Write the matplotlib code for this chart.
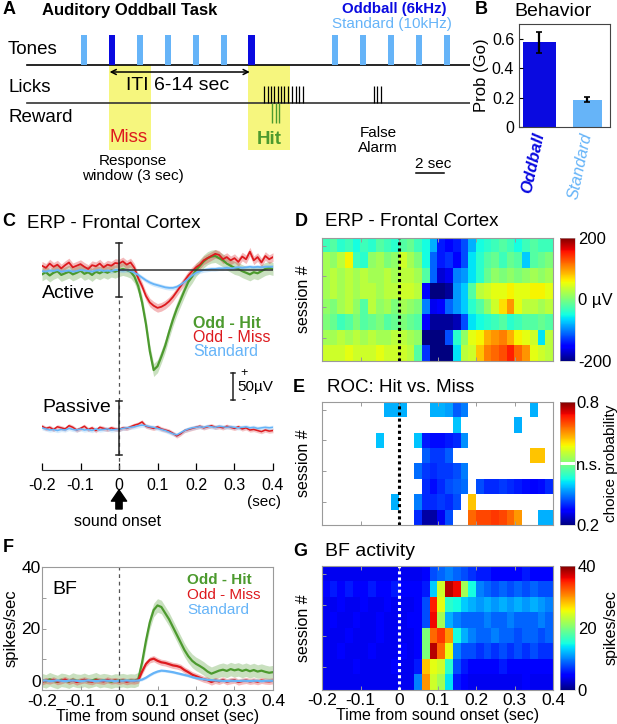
import numpy as np
import matplotlib
matplotlib.use("Agg")
import matplotlib.pyplot as plt
from matplotlib.colors import ListedColormap

plt.rcParams['font.family'] = ['Liberation Sans', 'DejaVu Sans']

# ---------------- DATA ----------------
# Panel A schematic (seconds)
tone_times = [0, 2, 4, 6, 8, 10, 12, 18, 20, 22, 24, 26]
tone_kind = ['S', 'O', 'S', 'S', 'S', 'S', 'O', 'S', 'S', 'S', 'S', 'S']
window_starts = [2, 12]
window_len = 3
hit_licks = [13.14, 13.38, 13.62, 13.86, 14.1, 14.34, 14.57, 14.82, 15.1, 15.41, 15.65, 15.89]
fa_licks = [21.0, 21.24, 21.48]
reward_times = [13.71, 13.96, 14.19]

# Panel B
beh_labels = ['Oddball', 'Standard']
beh_values = [0.575, 0.185]
beh_err = [0.07, 0.018]

# Time axis for traces
t = np.round(np.arange(-0.2, 0.4001, 0.01), 2)

# Panel C (uV), active
erp_hit = [-8, -4, -10, -5, -2, -9, -6, -3, -8, -5, -1, -7, -4, -9, -3, -6, -2, -5, -1, -3,
           0, 2, 0, -3, -12, -30, -60, -100, -150, -185, -178, -160, -140, -115, -92, -72, -55, -38, -22, -12,
           0, 8, 16, 22, 25, 26, 22, 18, 12, 8, 4, 2, -2, -5, -8, -4, -6, -2, 2, 4, 2]
erp_miss = [8, 4, 12, 6, 10, 3, 9, 14, 5, 8, 11, 6, 2, 9, 7, 12, 5, 10, 8, 13,
            12, 16, 10, 14, 4, -15, -30, -48, -60, -66, -70, -68, -64, -58, -50, -40, -30, -20, -10, -2,
            5, 10, 18, 22, 26, 30, 28, 20, 24, 18, 22, 15, 25, 20, 34, 18, 24, 14, 26, 20, 24]
erp_std = [-2, -3, -1, -2, 0, -3, -2, -1, -3, -2, 0, -1, -2, -3, -1, 0, -2, -1, -2, 0,
           0, -1, 0, -2, -5, -9, -14, -19, -23, -26, -28, -30, -32, -33, -33, -31, -27, -22, -16, -10,
           -5, -2, 0, 1, 2, 2, 3, 3, 4, 3, 4, 5, 4, 5, 6, 5, 6, 5, 6, 6, 6]
erp_sem = {'hit': 12, 'miss': 8, 'std': 4}
# passive
pas_miss = [4, 0, 2, -2, 3, 1, -1, 5, 2, -3, 0, 4, -2, 1, -4, 2, 0, -2, 1, -1,
            -2, 1, 0, 3, 6, 8, 12, 4, 2, 0, 3, -1, -3, -5, -9, -14, -10, -4, -2, 0,
            2, 4, 1, 3, 5, 2, 3, 1, 4, 2, 0, 3, -1, 1, -3, -2, -4, -6, -3, -5, -4]
pas_std = [1, -1, -3, -2, -4, -2, -3, 0, -2, -3, -1, -3, -2, -4, -1, -3, -2, -1, -3, -2,
           -2, 0, 1, 2, 3, 5, 6, 5, 3, 2, 0, -2, -4, -7, -10, -12, -8, -4, -1, 1,
           2, 3, 2, 4, 3, 2, 4, 3, 2, 3, 2, 1, 2, 3, 1, 2, 0, 1, 2, 1, 2]
pas_sem = 4
passive_offset = -293

# Panel D: ERP heatmap (uV), 8 sessions x 30 bins of 20 ms
erp_map = [
    [-30, -20, -40, -30, -50, -30, -40, -20, -30, -40, -20, -10, -30, -50, -80, -140, -150, -140, -120, -80, -50, -40, -30, -20, -30, -50, -30, -20, -30, -30],
    [20, 10, 30, 60, -30, -40, 10, 20, 0, 10, 40, 20, 0, -50, -110, -140, -130, -150, -120, -60, -40, -20, -10, -30, -10, -20, -70, -20, -10, 0],
    [20, 30, 20, 30, 20, 30, 20, 20, 30, 20, 30, 30, 20, -20, -110, -170, -160, -100, -90, -60, -40, -10, 10, 0, 10, 0, 10, 20, 10, 20],
    [20, 30, 20, 30, 20, 30, 30, 20, 30, 30, 40, 40, 30, -150, -200, -200, -190, -90, -70, -20, 30, 40, 50, 50, 60, 50, 50, 60, 60, 50],
    [10, 0, 20, 30, 10, -20, 30, 10, 20, 0, 20, 10, 0, -100, -160, -150, -110, -90, -70, -40, -20, 10, 40, 70, 100, 50, 30, 30, 20, 30],
    [0, -10, -30, -20, 0, -20, -10, 0, -20, -10, 0, -10, -20, -150, -190, -190, -190, -180, -120, -60, -50, -40, -30, -20, -40, -30, -20, -20, -10, -20],
    [20, 20, 30, 20, 30, 20, 30, 20, 20, 30, 30, 20, 10, -200, -200, -200, -120, -40, 10, 50, 60, 90, 100, 110, 90, 60, 50, 40, -60, 30],
    [40, 40, 40, 50, 40, 40, 40, 50, 40, 40, 40, 30, -20, -130, -200, -200, -200, -60, 30, 40, 80, 110, 120, 130, 150, 120, 100, 50, 40, 30],
]

# Panel E: choice probability (nan = not significant)
N = np.nan
roc_map = [
    [N, N, N, N, N, N, N, N, 0.38, 0.38, 0.38, N, N, N, 0.38, 0.38, 0.37, 0.33, 0.35, N, N, N, N, N, N, N, N, 0.38, N, N],
    [N, N, N, N, N, N, N, N, N, N, N, N, N, N, N, N, N, 0.39, N, N, N, N, N, N, N, 0.38, N, N, N, N],
    [N, N, N, N, N, N, N, 0.39, N, N, N, N, 0.39, 0.29, 0.28, 0.28, 0.29, 0.30, 0.36, N, N, N, N, N, N, N, N, N, N, N],
    [N, N, N, N, N, N, N, N, N, N, N, N, N, 0.33, 0.31, 0.31, 0.33, N, N, N, N, N, N, N, N, N, N, 0.62, 0.62, N],
    [N, N, N, N, N, N, N, N, N, N, N, N, 0.34, 0.31, 0.30, 0.31, 0.31, 0.32, 0.35, N, N, N, N, N, N, N, N, N, N, N],
    [N, N, N, N, N, N, N, N, N, N, N, N, N, 0.30, 0.28, 0.30, 0.32, 0.33, 0.34, N, 0.32, 0.30, 0.30, 0.31, 0.30, 0.29, 0.28, 0.27, 0.28, 0.30],
    [N, N, N, N, N, N, N, N, N, 0.38, N, N, 0.35, 0.30, 0.30, 0.31, 0.30, 0.32, N, 0.62, N, N, N, N, N, N, N, N, N, N],
    [N, N, N, N, N, N, N, N, N, N, N, N, 0.30, 0.22, 0.22, 0.26, 0.32, N, N, 0.68, 0.70, 0.70, 0.71, 0.70, 0.68, 0.65, N, N, 0.38, 0.38],
]

# Panel F (spikes/sec)
bf_hit = [3.2, 2.8, 3.5, 3.0, 2.6, 3.3, 3.1, 2.7, 3.4, 3.0, 2.9, 3.3, 2.8, 3.1, 3.5, 2.9, 3.2, 3.0, 2.7, 3.1,
          3.0, 3.2, 2.9, 3.1, 3.0, 3.5, 9, 16, 22, 26, 27.5, 27, 25, 23, 20.5, 18, 15.5, 13, 11, 9.5,
          8.5, 7.8, 7, 6, 5.3, 5.8, 6.3, 6.6, 6.2, 6.8, 6.4, 6.7, 6.2, 6.6, 6.1, 6.5, 6.0, 6.3, 5.9, 5.6, 5.8]
bf_miss = [2.6, 3.1, 2.9, 3.3, 2.7, 3.0, 3.4, 2.8, 3.2, 2.6, 3.0, 3.3, 2.9, 2.7, 3.2, 3.0, 2.8, 3.3, 2.9, 3.1,
           2.8, 3.1, 2.7, 3.0, 2.9, 3.2, 6, 8.5, 9.8, 10.2, 9.5, 9.0, 8.8, 8.4, 8.0, 7.8, 7.4, 6.5, 5.8, 5.0,
           4.5, 4.0, 3.5, 3.2, 2.6, 3.1, 2.8, 3.3, 2.7, 3.0, 3.2, 2.6, 2.9, 3.1, 2.8, 3.0, 2.7, 3.1, 2.9, 2.8, 3.0]
bf_std = [3.0, 3.1, 2.9, 3.0, 3.1, 3.0, 2.9, 3.0, 3.1, 3.0, 2.9, 3.0, 3.1, 3.0, 2.9, 3.0, 3.1, 3.0, 3.0, 2.9,
          3.0, 3.0, 3.1, 3.0, 3.0, 3.1, 3.4, 4.0, 4.8, 5.5, 6.0, 6.3, 6.2, 6.0, 5.8, 5.5, 5.2, 4.9, 4.6, 4.2,
          3.9, 3.7, 3.5, 3.3, 3.2, 3.1, 3.0, 3.0, 2.9, 3.0, 3.0, 2.9, 3.0, 3.0, 2.9, 3.0, 3.0, 2.9, 3.0, 3.0, 3.0]
bf_sem = {'hit': 2.2, 'miss': 1.0, 'std': 0.4}

# Panel G: BF activity heatmap (spikes/sec)
bf_map = [
    [4, 4, 4, 4, 4, 4, 4, 4, 4, 4, 4, 4, 4, 5, 8, 9, 10, 9, 8, 7, 6, 6, 5, 5, 5, 5, 6, 5, 5, 5],
    [5, 6, 5, 6, 5, 5, 6, 5, 5, 6, 5, 5, 5, 6, 13, 24, 38, 36, 22, 15, 10, 9, 8, 9, 8, 9, 8, 9, 8, 8],
    [4, 4, 5, 4, 4, 5, 4, 4, 5, 4, 4, 4, 5, 8, 35, 25, 16, 15, 13, 12, 11, 12, 11, 12, 11, 12, 11, 12, 11, 10],
    [4, 5, 4, 4, 5, 4, 4, 5, 4, 4, 4, 5, 5, 8, 36, 22, 12, 10, 9, 9, 9, 10, 9, 9, 10, 9, 9, 9, 10, 9],
    [4, 4, 4, 5, 4, 4, 4, 5, 4, 4, 4, 4, 5, 20, 32, 34, 30, 15, 12, 10, 9, 9, 10, 9, 9, 8, 9, 9, 8, 9],
    [4, 4, 5, 4, 4, 4, 5, 4, 4, 4, 5, 4, 5, 20, 38, 32, 25, 10, 8, 8, 7, 8, 7, 8, 7, 8, 7, 8, 7, 7],
    [4, 4, 4, 4, 5, 4, 4, 4, 4, 5, 4, 4, 6, 28, 25, 24, 16, 8, 6, 5, 5, 5, 5, 6, 5, 5, 5, 5, 5, 5],
    [4, 4, 4, 4, 4, 4, 4, 4, 4, 4, 4, 4, 10, 30, 24, 22, 14, 6, 5, 4, 4, 4, 4, 4, 4, 4, 5, 4, 4, 4],
]

# ---------------- STYLE ----------------
C_ODD = '#0a0ae0'
C_STD = '#66b4f8'
C_HIT = '#4c9a2e'
C_MISS = '#dd1a1e'
C_YEL = '#f6f67e'
GRAY = '#9a9a9a'

W, H = 617, 724
fig = plt.figure(figsize=(W / 100, H / 100), dpi=100)


def add_ax(x0, y0, x1, y1):
    return fig.add_axes([x0 / W, 1 - y1 / H, (x1 - x0) / W, (y1 - y0) / H])


def ft(x, y, s, **kw):
    kw.setdefault('va', 'center')
    fig.text(x / W, 1 - y / H, s, **kw)


# ---------------- PANEL A ----------------
pxs = 13.95
axA = add_ax(0, 0, 470, 190)
axA.set_xlim((0 - 81) / pxs, (470 - 81) / pxs)
axA.set_ylim(190, 0)
axA.axis('off')
line_x = [(27 - 81) / pxs, (470 - 81) / pxs]
axA.bar(window_starts, 85, width=window_len, bottom=65, align='edge', color=C_YEL, zorder=0)
axA.plot(line_x, [65, 65], color='k', lw=1.2)
axA.plot(line_x, [103.3, 103.3], color='#333333', lw=1.2)
axA.bar(tone_times, 30, width=0.45, bottom=35, align='edge',
        color=[C_ODD if k == 'O' else C_STD for k in tone_kind], zorder=2)
axA.vlines(hit_licks, 86, 103.3, color='k', lw=0.9)
axA.vlines(fa_licks, 86, 103.3, color='k', lw=0.9)
axA.vlines(reward_times, 103.3, 123, color=C_HIT, lw=1.0)
axA.annotate('', xy=(12.1, 72), xytext=(2.05, 72),
             arrowprops=dict(arrowstyle='<->', lw=1.1, color='k', shrinkA=0, shrinkB=0,
                             mutation_scale=9))
axA.plot([24, 26], [173, 173], color='k', lw=1.1)

ft(3, 10, 'A', fontsize=13, fontweight='bold')
ft(42, 10, 'Auditory Oddball Task', fontsize=12, fontweight='bold')
ft(446, 9, 'Oddball (6kHz)', fontsize=10.8, fontweight='bold', color=C_ODD, ha='right')
ft(452, 24, 'Standard (10kHz)', fontsize=11, color=C_STD, ha='right')
ft(8, 49, 'Tones', fontsize=13.5)
ft(8, 88, 'Licks', fontsize=13.5)
ft(8, 118, 'Reward', fontsize=13.5)
ft(178, 85, 'ITI 6-14 sec', fontsize=14, ha='center')
ft(129, 138, 'Miss', fontsize=13.5, color=C_MISS, ha='center')
ft(269, 139, 'Hit', fontsize=13.5, color=C_HIT, ha='center', fontweight='bold')
ft(133, 161, 'Response', fontsize=11, ha='center')
ft(133, 176, 'window (3 sec)', fontsize=11, ha='center')
ft(378, 133, 'False', fontsize=11, ha='center')
ft(378, 148, 'Alarm', fontsize=11, ha='center')
ft(433, 164, '2 sec', fontsize=11, ha='center')

# ---------------- PANEL B ----------------
axB = add_ax(519, 24, 610, 127)
xb = [1, 2]
axB.bar(xb, beh_values, width=[0.69, 0.6], color=[C_ODD, C_STD])
axB.errorbar(xb, beh_values, yerr=beh_err, fmt='none', ecolor='k', elinewidth=1.6, capsize=2, capthick=1.2)
axB.set_xlim(0.573, 2.469)
axB.set_ylim(0, 0.7)
axB.set_yticks([0, 0.2, 0.4, 0.6])
axB.set_yticklabels(['0', '0.2', '0.4', '0.6'], fontsize=11.5)
axB.set_xticks(xb)
axB.set_xticklabels(beh_labels)
for lab, col, w in zip(axB.get_xticklabels(), [C_ODD, C_STD], ['bold', 'normal']):
    lab.set_color(col)
    lab.set_fontweight(w)
    lab.set_fontstyle('italic')
    lab.set_fontsize(12)
    lab.set_rotation(78)
    lab.set_rotation_mode('anchor')
    lab.set_ha('right')
    lab.set_va('center')
axB.tick_params(axis='both', direction='in', length=3, width=0.8)
axB.tick_params(axis='x', length=0, pad=4)
for s in axB.spines.values():
    s.set_color('#444444')
    s.set_linewidth(0.8)
axB.set_ylabel('Prob (Go)', fontsize=12, labelpad=2)
ft(475, 10, 'B', fontsize=13, fontweight='bold')
ft(553, 12, 'Behavior', fontsize=14, ha='center')

# ---------------- PANEL C ----------------
axC = add_ax(42, 236, 273, 470)
axC.set_xlim(-0.2, 0.4)
axC.set_ylim(-370, 63)
for name, y, col in [('hit', erp_hit, C_HIT), ('miss', erp_miss, C_MISS), ('std', erp_std, C_STD)]:
    y = np.array(y, float)
    axC.fill_between(t, y - erp_sem[name], y + erp_sem[name], color=col, alpha=0.3, lw=0)
    axC.plot(t, y, color=col, lw=1.6 if name == 'hit' else 1.3)
for y, col in [(pas_miss, C_MISS), (pas_std, C_STD)]:
    y = np.array(y, float) + passive_offset
    axC.fill_between(t, y - pas_sem, y + pas_sem, color=col, alpha=0.25, lw=0)
    axC.plot(t, y, color=col, lw=1.1)
axC.plot([0, 0.4], [0, 0], color='#333333', lw=1.1)
axC.plot([0, 0], [-55, -370], color='#555555', lw=0.9, ls=(0, (3, 3)))
for c in [0, passive_offset]:
    axC.plot([0, 0], [c - 50, c + 50], color='#222222', lw=1.1)
    axC.plot([-0.008, 0.008], [c + 50, c + 50], color='#222222', lw=1.1)
    axC.plot([-0.008, 0.008], [c - 50, c - 50], color='#222222', lw=1.1)
axC.plot([0.296, 0.296], [-190, -240], color='#222222', lw=1.1)
axC.plot([0.291, 0.301], [-190, -190], color='#222222', lw=1.1)
axC.plot([0.291, 0.301], [-240, -240], color='#222222', lw=1.1)
for s in ['top', 'right', 'left']:
    axC.spines[s].set_visible(False)
axC.spines['bottom'].set_color('#333333')
axC.set_yticks([])
axC.set_xticks([-0.2, -0.1, 0, 0.1, 0.2, 0.3, 0.4])
axC.set_xticklabels(['-0.2', '-0.1', '0', '0.1', '0.2', '0.3', '0.4'], fontsize=11.5)
axC.tick_params(axis='x', direction='in', length=5, width=0.9, pad=6)
axC.annotate('', xy=(0, 1 - 490 / H), xycoords=('data', 'figure fraction'),
             xytext=(0, 1 - 509 / H), textcoords=('data', 'figure fraction'),
             arrowprops=dict(arrowstyle='simple,head_width=1.1,head_length=0.8,tail_width=0.45',
                             color='k', shrinkA=0, shrinkB=0), annotation_clip=False)
ft(118, 521, 'sound onset', fontsize=11.5, ha='center')
ft(264, 502, '(sec)', fontsize=11, ha='center')
ft(42, 293, 'Active', fontsize=14)
ft(42, 408, 'Passive', fontsize=14)
ft(193, 323, 'Odd - Hit', fontsize=11.5, color=C_HIT, fontweight='bold')
ft(193, 337, 'Odd - Miss', fontsize=11.5, color=C_MISS)
ft(193, 352, 'Standard', fontsize=11.5, color=C_STD)
ft(244, 373, '+', fontsize=9, ha='center')
ft(237, 387, '50µV', fontsize=11)
ft(243, 400, '-', fontsize=9, ha='center')
ft(2, 222, 'C', fontsize=13, fontweight='bold')
ft(27, 223, 'ERP - Frontal Cortex', fontsize=13.5)


# ---------------- heatmap helper ----------------
def heat(ax, data, cmap, vmin, vmax, line_col, xlabels):
    im = ax.imshow(np.array(data, float), cmap=cmap, vmin=vmin, vmax=vmax, aspect='auto',
                   interpolation='nearest', extent=[-0.2, 0.4, 8.5, 0.5])
    ax.axvline(0, color=line_col, lw=2.2, ls=(0, (1, 1)))
    ax.set_xlim(-0.2, 0.4)
    ax.set_ylim(8.5, 0.5)
    ax.set_yticks([1, 3, 5, 7])
    ax.set_yticklabels([])
    ax.set_xticks([-0.2, -0.1, 0, 0.1, 0.2, 0.3, 0.4])
    if xlabels:
        ax.set_xticklabels(['-0.2', '-0.1', '0', '0.1', '0.2', '0.3', '0.4'], fontsize=12.5)
    else:
        ax.set_xticklabels([])
    ax.tick_params(direction='in', length=3, width=0.7, color=GRAY, top=True, pad=2)
    for s in ax.spines.values():
        s.set_color(GRAY)
        s.set_linewidth(0.8)
    ax.set_ylabel('session #', fontsize=11.5, labelpad=6)
    return im


def cbar(im, y0, y1, ticks, labels, label=None, pad=-2, lsize=11.5):
    cax = add_ax(560, y0, 575, y1)
    cb = fig.colorbar(im, cax=cax)
    cb.set_ticks(ticks)
    cb.set_ticklabels(labels)
    cb.ax.tick_params(length=0, labelsize=12, pad=2)
    cb.outline.set_linewidth(0.4)
    cb.outline.set_edgecolor('#bbbbbb')
    if label:
        cb.set_label(label, fontsize=lsize, labelpad=pad)
    return cb


# ---------------- PANEL D ----------------
axD = add_ax(322, 238, 553, 361)
imD = heat(axD, erp_map, 'jet', -200, 200, 'k', False)
cbar(imD, 238, 361, [-200, 0, 200], ['-200', '0 µV', '200'])
ft(295, 222, 'D', fontsize=13, fontweight='bold')
ft(325, 222, 'ERP - Frontal Cortex', fontsize=13.5)

# ---------------- PANEL E ----------------
jet_cols = plt.cm.jet(np.linspace(0, 1, 256))
jet_cols[125:131] = [1, 1, 1, 1]
roc_cmap = ListedColormap(jet_cols)
roc_cmap.set_bad('white')
axE = add_ax(322, 402, 553, 525)
imE = heat(axE, roc_map, roc_cmap, 0.2, 0.8, 'k', False)
cbE = cbar(imE, 402, 525, [0.2, 0.5, 0.8], ['0.2', 'n.s.', '0.8'], 'choice probability', pad=1, lsize=11)
cbE.ax.tick_params(pad=1)
ft(293, 387, 'E', fontsize=13, fontweight='bold')
ft(327, 387, 'ROC: Hit vs. Miss', fontsize=13.5)

# ---------------- PANEL F ----------------
axF = add_ax(42, 567, 273, 690)
for name, y, col in [('hit', bf_hit, C_HIT), ('miss', bf_miss, C_MISS), ('std', bf_std, C_STD)]:
    y = np.array(y, float)
    axF.fill_between(t, y - bf_sem[name], y + bf_sem[name], color=col, alpha=0.3, lw=0)
    axF.plot(t, y, color=col, lw=1.6)
axF.axvline(0, color='#555555', lw=0.9, ls=(0, (3, 3)))
axF.set_xlim(-0.2, 0.4)
axF.set_ylim(0, 40)
axF.set_xticks([-0.2, -0.1, 0, 0.1, 0.2, 0.3, 0.4])
axF.set_xticklabels(['-0.2', '-0.1', '0', '0.1', '0.2', '0.3', '0.4'], fontsize=12.5)
axF.set_yticks([0, 10, 20, 30, 40])
axF.set_yticklabels(['0', '', '20', '', '40'], fontsize=12.5)
axF.get_yticklabels()[0].set_va('bottom')
axF.tick_params(direction='in', length=3, width=0.7, color=GRAY, pad=1)
axF.tick_params(axis='x', pad=3)
for s in axF.spines.values():
    s.set_color(GRAY)
    s.set_linewidth(0.8)
axF.set_ylabel('spikes/sec', fontsize=12, labelpad=2)
axF.set_xlabel('Time from sound onset (sec)', fontsize=11.5, labelpad=0)
ft(52, 590, 'BF', fontsize=14)
ft(187, 580, 'Odd - Hit', fontsize=11, color=C_HIT, fontweight='bold')
ft(187, 595, 'Odd - Miss', fontsize=11, color=C_MISS)
ft(187, 610, 'Standard', fontsize=11, color=C_STD)
ft(3, 547, 'F', fontsize=13, fontweight='bold')

# ---------------- PANEL G ----------------
axG = add_ax(322, 566, 553, 690)
imG = heat(axG, bf_map, 'jet', 0, 40, 'white', True)
axG.set_xlabel('Time from sound onset (sec)', fontsize=11.5, labelpad=0)
cbar(imG, 566, 690, [0, 20, 40], ['0', '20', '40'], 'spikes/sec', pad=5)
ft(293, 552, 'G', fontsize=13, fontweight='bold')
ft(325, 552, 'BF activity', fontsize=14)

fig.savefig('out.png', dpi=100)
